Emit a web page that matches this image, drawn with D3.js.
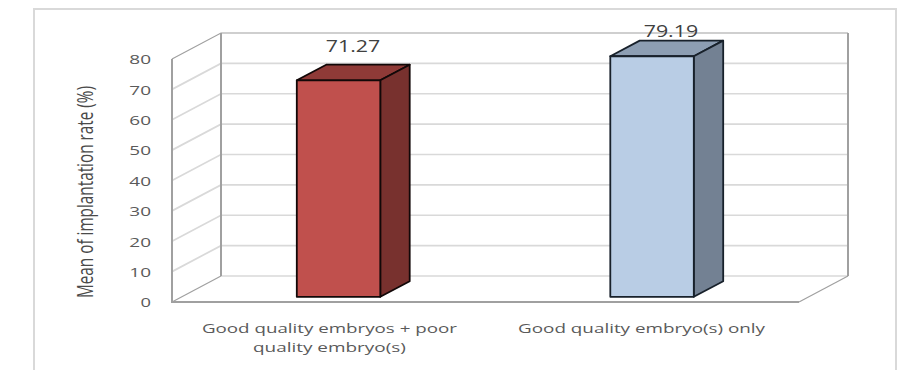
<!DOCTYPE html>
<html>
<head>
<meta charset="utf-8">
<script src="https://cdn.jsdelivr.net/npm/d3@7"></script>
<style>
  html, body { margin: 0; padding: 0; background: #fff; }
  svg { display: block; }
  text { font-family: "Open Sans", sans-serif; }
</style>
</head>
<body>
<div id="chart"></div>
<script>
// Chart content
const categories = ["Good quality embryos + poor quality embryo(s)", "Good quality embryo(s) only"];
const categoryLines = [["Good quality embryos + poor", "quality embryo(s)"], ["Good quality embryo(s) only"]];
const implantationMeans = [71.27, 79.19];
const yTicks = [0, 10, 20, 30, 40, 50, 60, 70, 80];
const yTitle = "Mean of implantation rate (%)";

// Fill shades per bar: front, side, top
const barShades = [
  { front: "#c0504d", side: "#78312e", top: "#8f3a37", edge: "#120808" },
  { front: "#b9cde5", side: "#738193", top: "#8d9eb3", edge: "#18212b" }
];

const width = 905, height = 370;
const floor = { left: 172, right: 799, bottom: 302, top: 59 };
const depth = { dx: 49, dy: -26 };       // full floor depth of the 3D box
const barDepth = { near: 0.2, far: 0.8 }; // bar extent along that depth

const y = d3.scaleLinear().domain([0, 80]).range([floor.bottom, floor.top]);
const x = d3.scaleBand().domain(categories).range([floor.left, floor.right]);
const barWidth = 83.5;

// Oblique projection: x on the front plane, value on y, z in 0..1 going back
const project = (px, v, z) => [px + z * depth.dx, y(v) + z * depth.dy];
const poly = pts => pts.map(p => p.join(",")).join(" ");

const svg = d3.select("#chart").append("svg").attr("width", width).attr("height", height);

// Outer chart frame, open at the bottom
svg.append("path")
  .attr("d", `M34,${height}V9H896V${height}`)
  .attr("fill", "none").attr("stroke", "#d9d9d9").attr("stroke-width", 2);

// Gridlines across the side wall and back wall
const grid = svg.append("g").attr("fill", "none").attr("stroke", "#d9d9d9").attr("stroke-width", 1.7);
yTicks.filter(t => t > 0 && t < 80).forEach(t => {
  grid.append("polyline").attr("points", poly([
    project(floor.left, t, 0), project(floor.left, t, 1), project(floor.right, t, 1)
  ]));
});
grid.append("polyline").attr("points", poly([
  project(floor.left, 0, 1), project(floor.right, 0, 1)
]));

// Box edges
const wall = svg.append("g").attr("fill", "none").attr("stroke", "#a0a0a0");
wall.append("polyline").attr("stroke-width", 1.2)
  .attr("points", poly([project(floor.left, 80, 0), project(floor.left, 80, 1), project(floor.right, 80, 1)]));
wall.append("line").attr("stroke-width", 2)
  .attr("x1", project(floor.left, 0, 1)[0]).attr("y1", project(floor.left, 0, 1)[1])
  .attr("x2", project(floor.left, 80, 1)[0]).attr("y2", project(floor.left, 80, 1)[1]);
wall.append("line").attr("stroke-width", 2)
  .attr("x1", project(floor.right, 0, 1)[0]).attr("y1", project(floor.right, 0, 1)[1])
  .attr("x2", project(floor.right, 80, 1)[0]).attr("y2", project(floor.right, 80, 1)[1]);
wall.append("polyline").attr("stroke-width", 1.2)
  .attr("points", poly([project(floor.left, 0, 1), project(floor.left, 0, 0)]));
wall.append("polyline").attr("stroke-width", 1.2)
  .attr("points", poly([project(floor.right, 0, 0), project(floor.right, 0, 1)]));
wall.append("line").attr("stroke-width", 2)
  .attr("x1", floor.left).attr("y1", y(0)).attr("x2", floor.left).attr("y2", y(80));
wall.append("line").attr("stroke-width", 2)
  .attr("x1", floor.left - 1).attr("y1", y(0)).attr("x2", floor.right).attr("y2", y(0));

// Value axis labels
const axis = svg.append("g")
  .attr("transform", `translate(151,0.8)`)
  .call(d3.axisLeft(y).tickValues(yTicks).tickSize(0).tickPadding(0));
axis.select(".domain").remove();
axis.selectAll("text")
  .attr("font-family", "Open Sans, sans-serif")
  .attr("font-size", 12.5)
  .attr("fill", "#5a5a5a")
  .attr("textLength", d => d === 0 ? 10.5 : 21.7)
  .attr("lengthAdjust", "spacingAndGlyphs");

// Value axis title, narrow letterforms
svg.append("text")
  .attr("transform", "translate(92.7,192) rotate(-90)")
  .attr("text-anchor", "middle")
  .attr("font-size", 21)
  .attr("fill", "#4a4a4a")
  .attr("textLength", 212)
  .attr("lengthAdjust", "spacingAndGlyphs")
  .text(yTitle);

// Bars as three visible faces of a box
const bars = svg.selectAll("g.bar")
  .data(categories.map((c, i) => ({ c, i, v: implantationMeans[i] })))
  .join("g").attr("class", "bar")
  .attr("stroke-width", 1.8).attr("stroke-linejoin", "round");

const leftOf = d => x(d.c) + (x.bandwidth() - barWidth) / 2;
bars.each(function (d) {
  const g = d3.select(this), s = barShades[d.i];
  const l = leftOf(d), r = l + barWidth;
  const n = barDepth.near, f = barDepth.far;
  g.attr("stroke", s.edge);
  g.append("polygon").attr("fill", s.top).attr("points", poly([
    project(l, d.v, n), project(l, d.v, f), project(r, d.v, f), project(r, d.v, n)
  ]));
  g.append("polygon").attr("fill", s.side).attr("points", poly([
    project(r, 0, n), project(r, d.v, n), project(r, d.v, f), project(r, 0, f)
  ]));
  g.append("polygon").attr("fill", s.front).attr("points", poly([
    project(l, 0, n), project(l, d.v, n), project(r, d.v, n), project(r, 0, n)
  ]));
});

// Value labels; each was nudged by hand in the chart, so offsets differ per bar
const labelNudge = [[24.3, -28], [28.7, -19.5]];
bars.append("text")
  .attr("x", d => leftOf(d) + barWidth / 2 + labelNudge[d.i][0])
  .attr("y", d => project(0, d.v, barDepth.near)[1] + labelNudge[d.i][1])
  .attr("text-anchor", "middle")
  .attr("font-size", 15.5)
  .attr("fill", "#404040")
  .attr("stroke", "none")
  .attr("textLength", 54.5)
  .attr("lengthAdjust", "spacingAndGlyphs")
  .text(d => d.v.toFixed(2));

// Category labels
const lineWidths = [[255, 153], [247]];
categories.forEach((c, i) => {
  categoryLines[i].forEach((line, j) => {
    svg.append("text")
      .attr("x", x(c) + x.bandwidth() / 2 + (i === 0 ? 0.7 : -0.7))
      .attr("y", 333 + j * 18.7)
      .attr("text-anchor", "middle")
      .attr("font-size", 12.5)
      .attr("fill", "#5a5a5a")
      .attr("textLength", lineWidths[i][j])
      .attr("lengthAdjust", "spacingAndGlyphs")
      .text(line);
  });
});
</script>
</body>
</html>
